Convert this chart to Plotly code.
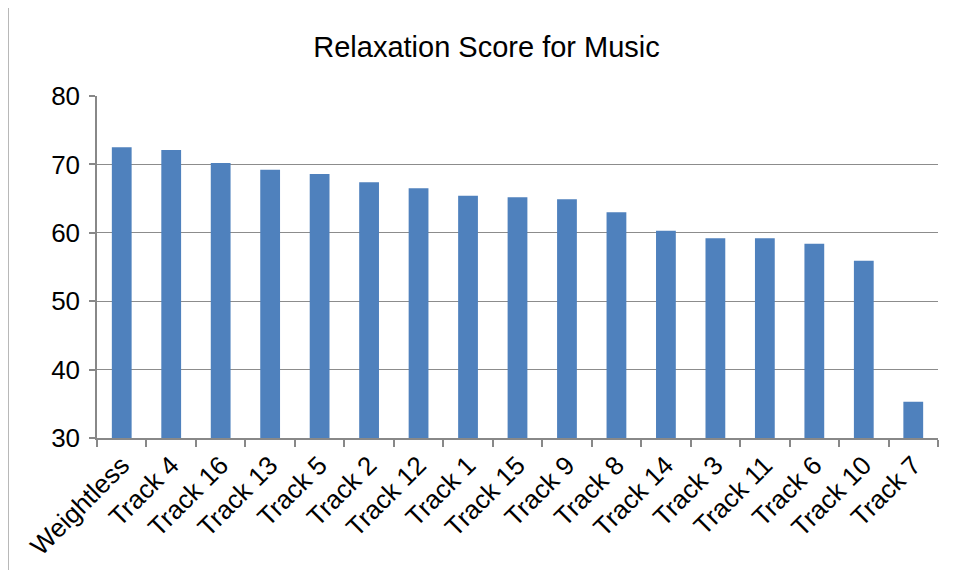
import plotly.graph_objects as go

tracks = ["Weightless", "Track 4", "Track 16", "Track 13", "Track 5", "Track 2", "Track 12",
          "Track 1", "Track 15", "Track 9", "Track 8", "Track 14", "Track 3", "Track 11",
          "Track 6", "Track 10", "Track 7"]
scores = [72.5, 72.1, 70.2, 69.2, 68.6, 67.4, 66.5, 65.4, 65.2, 64.9, 63.0, 60.3, 59.2, 59.2,
          58.4, 55.9, 35.3]
y_ticks = [30, 40, 50, 60, 70, 80]

# page offset of the figure (default body margin in the html page)
OFF = 8
W, H = 955, 581
# target plot area in window pixels: x 97..938, y 96..438
L = 97 - OFF
T = 96 - OFF
R = (W + OFF) - 938
B = (H + OFF) - 438
pw, ph = W - L - R, H - T - B

fig = go.Figure(go.Bar(x=tracks, y=scores, marker=dict(color="#4f81bd", line=dict(width=0))))

fig.update_layout(
    width=W, height=H,
    margin=dict(l=L, r=R, t=T, b=B, autoexpand=False),
    paper_bgcolor="white", plot_bgcolor="white",
    font=dict(family="Liberation Sans, Arial", size=26, color="black"),
    title=dict(text="Relaxation Score for Music", x=(486.5 - OFF) / W, xanchor="center",
               y=1 - (47 - OFF) / H, yanchor="middle", font=dict(size=29)),
    bargap=0.6,
    showlegend=False,
)
fig.update_xaxes(
    type="category", tickangle=-45, tickson="boundaries", automargin=False,
    ticks="outside", ticklen=7, tickcolor="#888888", tickwidth=1.5,
    showline=True, linecolor="#888888", linewidth=1.5,
    showgrid=False, tickfont=dict(size=26),
)
fig.update_yaxes(
    range=[30, 80], tickvals=y_ticks, ticks="outside", ticklen=6, automargin=False,
    tickcolor="#888888", tickwidth=1.5,
    showline=True, linecolor="#888888", linewidth=1.5,
    showgrid=True, gridcolor="#8c8c8c", gridwidth=1.2,
    zeroline=False, tickfont=dict(size=26), ticklabelstandoff=4,
)
fig.add_shape(type="line", xref="paper", yref="paper",
              x0=(8 - 97) / pw, x1=(8 - 97) / pw,
              y0=(438 - 570) / ph, y1=(438 - 8) / ph,
              line=dict(color="#a0a0a0", width=1.5))

fig.write_html("out.html")
